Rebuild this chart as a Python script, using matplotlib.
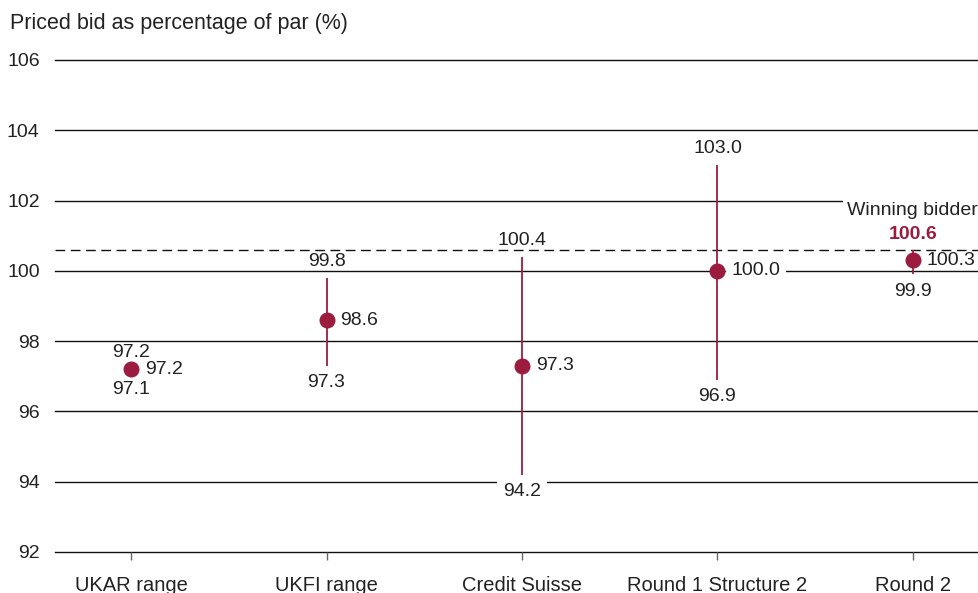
import matplotlib.pyplot as plt

plt.rcParams["font.family"] = ["Liberation Sans", "DejaVu Sans"]

categories = ["UKAR range", "UKFI range", "Credit Suisse", "Round 1 Structure 2", "Round 2"]
mid_bid = [97.2, 98.6, 97.3, 100.0, 100.3]
low_bid = [97.1, 97.3, 94.2, 96.9, 99.9]
high_bid = [97.2, 99.8, 100.4, 103.0, 100.6]
winning_bid = 100.6

CRIMSON = "#9b1c3f"
TEXT = "#222222"
FS = 14

fig = plt.figure(figsize=(9.79, 5.93), dpi=100)
ax = fig.add_axes([55 / 979, 41 / 593, 924 / 979, 492 / 593])
ax.set_xlim(-0.389, 4.338)
ax.set_ylim(92, 106)

for s in ax.spines.values():
    s.set_visible(False)

# horizontal rules instead of a grid
yticks = list(range(92, 107, 2))
for y in yticks:
    ax.axhline(y, color="#111111", lw=1.0, zorder=1, clip_on=False)
ax.axhline(winning_bid, color="#111111", lw=1.0, ls=(0, (7, 4)), zorder=1)

ax.set_yticks(yticks)
ax.set_yticklabels([str(y) for y in yticks], fontsize=FS, color=TEXT)
ax.tick_params(axis="y", length=0, pad=11)
ax.set_xticks(range(len(categories)))
ax.set_xticklabels(categories, fontsize=FS + 0.5, color=TEXT)
ax.tick_params(axis="x", length=6, width=1, color="#666666", pad=11)

x = list(range(len(categories)))
ax.vlines(x, low_bid, high_bid, color=CRIMSON, lw=1.3, zorder=3)
ax.plot(x, mid_bid, "o", color=CRIMSON, ms=10.5, zorder=4)

white = dict(facecolor="white", edgecolor="none", pad=4)
for i in x:
    box = white if i == 3 else None
    ax.annotate(f"{mid_bid[i]:.1f}", (i, mid_bid[i]), xytext=(10, 0), textcoords="offset points",
                ha="left", va="center", fontsize=FS, color=TEXT, zorder=5, bbox=box)
    box = white if i == 2 else None
    ax.annotate(f"{low_bid[i]:.1f}", (i, low_bid[i]), xytext=(0, -12), textcoords="offset points",
                ha="center", va="center", fontsize=FS, color=TEXT, zorder=5, bbox=box)
    if i < 4:
        ax.annotate(f"{high_bid[i]:.1f}", (i, high_bid[i]), xytext=(0, 12), textcoords="offset points",
                    ha="center", va="center", fontsize=FS, color=TEXT, zorder=5)

ax.annotate("Winning bidder", (4, winning_bid), xytext=(0, 28), textcoords="offset points",
            ha="center", va="center", fontsize=FS, color=TEXT, zorder=5,
            bbox=dict(facecolor="white", edgecolor="none", pad=3))
ax.annotate(f"{winning_bid:.1f}", (4, winning_bid), xytext=(0, 11), textcoords="offset points",
            ha="center", va="center", fontsize=FS, color=CRIMSON, fontweight="bold", zorder=6)

fig.text(10 / 979, 1 - 23 / 593, "Priced bid as percentage of par (%)", fontsize=FS + 1.5,
         color=TEXT, ha="left", va="center")

fig.savefig("out.png", dpi=100)
